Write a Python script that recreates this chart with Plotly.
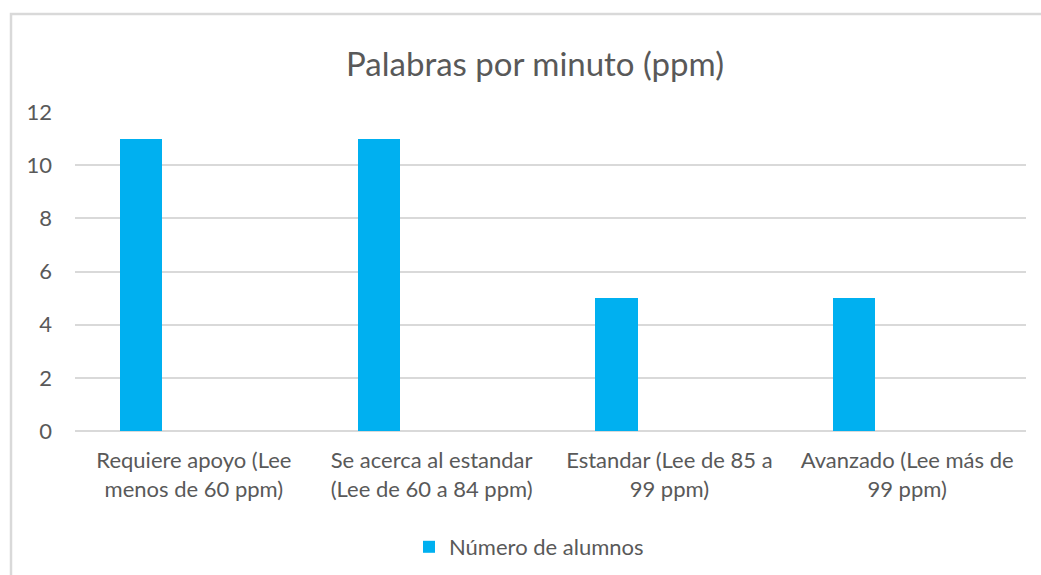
import plotly.graph_objects as go

categories = [
    "Requiere apoyo (Lee<br>menos de 60 ppm)",
    "Se acerca al estandar<br>(Lee de 60 a 84 ppm)",
    "Estandar (Lee de 85 a<br>99 ppm)",
    "Avanzado (Lee más de<br>99 ppm)",
]
values = [11, 11, 5, 5]
series_name = "Número de alumnos"
title = "Palabras por minuto (ppm)"
y_ticks = [0, 2, 4, 6, 8, 10, 12]

W, H = 1041, 575
L, R, T, B = 75, 15, 112, 144
PW, PH = W - L - R, H - T - B
FONT = "Lato"
GRAY = "#595959"

fig = go.Figure()
fig.add_trace(go.Bar(
    x=categories, y=values, name=series_name,
    marker=dict(color="#00B0F0", line=dict(width=0)),
    width=0.177, offset=-0.311,
    showlegend=True,
))

fig.update_layout(
    width=W, height=H,
    paper_bgcolor="white", plot_bgcolor="white",
    margin=dict(l=L, r=R, t=T, b=B, autoexpand=False),
    title=dict(text=title, x=535 / W, xanchor="center", y=1 - 64 / H, yanchor="middle",
               font=dict(family=FONT, size=33, color=GRAY)),
    font=dict(family=FONT, color=GRAY),
    xaxis=dict(type="category", range=[-0.5, 3.5], showgrid=False, showline=False,
               ticks="", tickfont=dict(family=FONT, size=22, color=GRAY), ticklabelstandoff=14),
    yaxis=dict(range=[0, 12], tickvals=y_ticks, showgrid=True, gridcolor="#d9d9d9", gridwidth=1.5,
               zeroline=True, zerolinecolor="#d9d9d9", zerolinewidth=1.5, ticks="",
               tickfont=dict(family=FONT, size=22, color=GRAY), ticklabelstandoff=22),
    legend=dict(orientation="h", x=(529 - L) / PW, xanchor="center", y=(431 - 547) / PH,
                yanchor="middle", font=dict(family=FONT, size=22, color=GRAY)),
    bargap=0,
    shapes=[dict(type="rect", xref="paper", yref="paper", x0=(11 - L) / PW, x1=1.1,
                 y0=-0.6, y1=1 + (T - 14) / PH, line=dict(color="#d9d9d9", width=2.5),
                 fillcolor="rgba(0,0,0,0)", layer="below")],
)
fig.write_html("out.html", config={"displayModeBar": False},
               post_script="document.body.style.margin='0';document.body.style.overflow='hidden';")
